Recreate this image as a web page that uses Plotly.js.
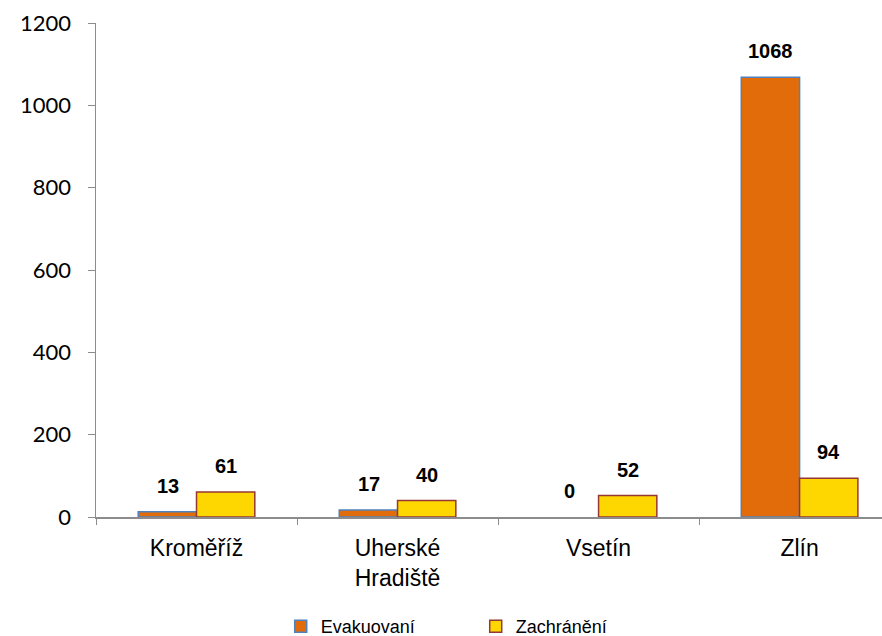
<!DOCTYPE html>
<html><head><meta charset="utf-8">
<script src="https://cdn.plot.ly/plotly-3.0.1.min.js"></script>
<style>html,body{margin:0;padding:0;background:#fff}#c{width:882px;height:636px}</style>
</head><body><div id="c"></div>
<script>
const categories = ["Kroměříž", "Uherské<br>Hradiště", "Vsetín", "Zlín"];
const evakuovani = [13, 17, 0, 1068];
const zachraneni = [61, 40, 52, 94];
const yTicks = [0, 200, 400, 600, 800, 1000, 1200];

const labelFont = {family: "Liberation Sans, Arial, sans-serif", size: 20, color: "#000", weight: "bold"};
const traces = [
  {type: "bar", name: "Evakuovaní", x: categories, y: evakuovani,
   marker: {color: "#E36C0A", line: {color: "#4F81BD", width: evakuovani.map(v => v === 0 ? 0 : 1.5)}}},
  {type: "bar", name: "Zachránění", x: categories, y: zachraneni,
   marker: {color: "#FFD700", line: {color: "#953735", width: 1.5}}}
];
const annotations = [];
[[evakuovani, -29], [zachraneni, 29]].forEach(([vals, dx]) => {
  vals.forEach((v, i) => annotations.push({
    x: categories[i], y: v, xref: "x", yref: "y", text: String(v), showarrow: false,
    xshift: dx, yanchor: "bottom", yshift: 13, font: labelFont
  }));
});
const layout = {
  width: 882, height: 636,
  margin: {l: 96, r: 0, t: 23, b: 119, autoexpand: false},
  paper_bgcolor: "#fff", plot_bgcolor: "#fff",
  barmode: "group", bargap: 0.42, bargroupgap: 0,
  showlegend: true,
  annotations: annotations,
  legend: {orientation: "h", x: 0.235, xanchor: "left", y: -0.222, yanchor: "middle",
           font: {family: "Liberation Sans, Arial, sans-serif", size: 18, color: "#000"},
           itemwidth: 30, entrywidth: 150, entrywidthmode: "pixels", traceorder: "normal"},
  xaxis: {type: "category", range: [-0.5, 3.41], showline: true, linecolor: "#8c8c8c", linewidth: 1.5,
          ticks: "outside", tickson: "boundaries", ticklen: 6, tickcolor: "#8c8c8c",
          ticklabelstandoff: 10, automargin: false,
          tickfont: {family: "Liberation Sans, Arial, sans-serif", size: 23, color: "#000"},
          showgrid: false, zeroline: false},
  yaxis: {range: [0, 1200], tickvals: yTicks, showline: true, linecolor: "#8c8c8c", linewidth: 1.5,
          ticks: "outside", ticklen: 7, tickcolor: "#8c8c8c", ticklabelstandoff: 12, automargin: false,
          tickfont: {family: "Lato, sans-serif", size: 22, color: "#000"},
          showgrid: false, zeroline: false}
};
Plotly.newPlot("c", traces, layout, {displayModeBar: false, staticPlot: true});
</script></body></html>
